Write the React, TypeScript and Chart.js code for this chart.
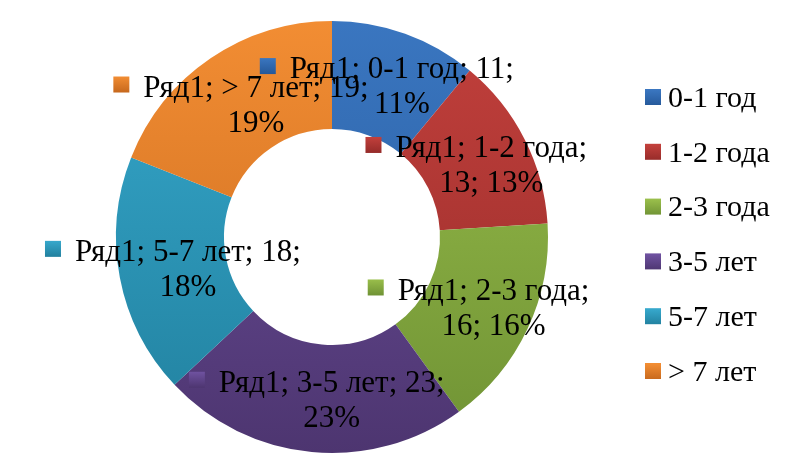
import { useEffect, useRef } from "react";
import { Chart, registerables } from "chart.js";

Chart.register(...registerables);

const seriesName = "Ряд1";
const categories = ["0-1 год", "1-2 года", "2-3 года", "3-5 лет", "5-7 лет", "> 7 лет"];
const values = [11, 13, 16, 23, 18, 19];
const colorsTop = ["#3A76C0", "#C2403C", "#99BE4B", "#6F52A0", "#36A8CC", "#F28D33"];
const colorsBottom = ["#255899", "#952B29", "#6F9234", "#4D3570", "#21809E", "#C6681D"];
const colorsMid = ["#2F68AE", "#AE3633", "#86AA41", "#5E4488", "#2C95B6", "#DD7A28"];

const FONT_FAMILY = "'Liberation Serif', 'Times New Roman', serif";
const LABEL_FONT = 31;
const LEGEND_FONT = 30;

const labelsPlugin = {
  id: "excelLabels",
  afterDatasetsDraw(chart: any) {
    const ctx = chart.ctx as CanvasRenderingContext2D;
    const meta = chart.getDatasetMeta(0);
    const data = chart.data.datasets[0].data as number[];
    const total = data.reduce((a, b) => a + b, 0);
    ctx.save();
    ctx.font = `${LABEL_FONT}px ${FONT_FAMILY}`;
    ctx.textBaseline = "middle";
    ctx.fillStyle = "#000";
    const maxW = 230;
    const marker = 16;
    const gap = 14;
    const lineH = 35;
    meta.data.forEach((arc: any, i: number) => {
      const pct = Math.round((data[i] / total) * 100);
      const words = `${seriesName}; ${chart.data.labels[i]}; ${data[i]}; ${pct}%`.split(" ");
      const lines: string[] = [];
      let cur = "";
      for (const w of words) {
        const t = cur ? cur + " " + w : w;
        if (cur && ctx.measureText(t).width > maxW) {
          lines.push(cur);
          cur = w;
        } else cur = t;
      }
      if (cur) lines.push(cur);
      const { x, y } = arc.getCenterPoint();
      const textW = Math.max(...lines.map((l) => ctx.measureText(l).width));
      const blockW = marker + gap + textW;
      const left = x - blockW / 2;
      const textCx = left + marker + gap + textW / 2;
      const startY = y + 3 - ((lines.length - 1) * lineH) / 2;
      const g = ctx.createLinearGradient(0, startY - 12, 0, startY + 4);
      g.addColorStop(0, colorsTop[i]);
      g.addColorStop(1, colorsBottom[i]);
      ctx.fillStyle = g;
      ctx.fillRect(left, startY - 4 - marker / 2, marker, marker);
      ctx.fillStyle = "#000";
      ctx.textAlign = "center";
      lines.forEach((l, k) => ctx.fillText(l, textCx, startY + k * lineH));
    });
    ctx.restore();
  },
};

const legendPlugin = {
  id: "rightLegend",
  afterDraw(chart: any) {
    const ctx = chart.ctx as CanvasRenderingContext2D;
    ctx.save();
    ctx.font = `${LEGEND_FONT}px ${FONT_FAMILY}`;
    ctx.textBaseline = "middle";
    ctx.textAlign = "left";
    const x0 = 645;
    const y0 = 98;
    const step = 54.8;
    (chart.data.labels as string[]).forEach((lab, i) => {
      const cy = y0 + i * step;
      const g = ctx.createLinearGradient(0, cy - 8, 0, cy + 8);
      g.addColorStop(0, colorsTop[i]);
      g.addColorStop(1, colorsBottom[i]);
      ctx.fillStyle = g;
      ctx.fillRect(x0, cy - 9, 16, 16);
      ctx.fillStyle = "#000";
      ctx.fillText(lab, x0 + 23, cy + 1);
    });
    ctx.restore();
  },
};

export default function App() {
  const ref = useRef<HTMLCanvasElement>(null);
  useEffect(() => {
    if (!ref.current) return;
    const chart = new Chart(ref.current, {
      type: "doughnut",
      data: {
        labels: categories,
        datasets: [
          {
            label: seriesName,
            data: values,
            borderWidth: 0,
            backgroundColor: (c: any) => {
              const area = c.chart.chartArea;
              const i = c.dataIndex;
              if (!area || i === undefined) return colorsMid[i ?? 0];
              const g = c.chart.ctx.createLinearGradient(0, area.top, 0, area.bottom);
              g.addColorStop(0, colorsTop[i]);
              g.addColorStop(1, colorsBottom[i]);
              return g;
            },
          },
        ],
      },
      options: {
        animation: false,
        responsive: true,
        maintainAspectRatio: false,
        cutout: "50%",
        layout: { padding: { left: 116, right: 240, top: 21, bottom: 7 } },
        plugins: { legend: { display: false }, tooltip: { enabled: false } },
      },
      plugins: [labelsPlugin, legendPlugin],
    });
    return () => chart.destroy();
  }, []);
  return (
    <div style={{ position: "fixed", left: 0, top: 0, width: 788, height: 460, background: "#fff" }}>
      <canvas ref={ref} />
    </div>
  );
}
